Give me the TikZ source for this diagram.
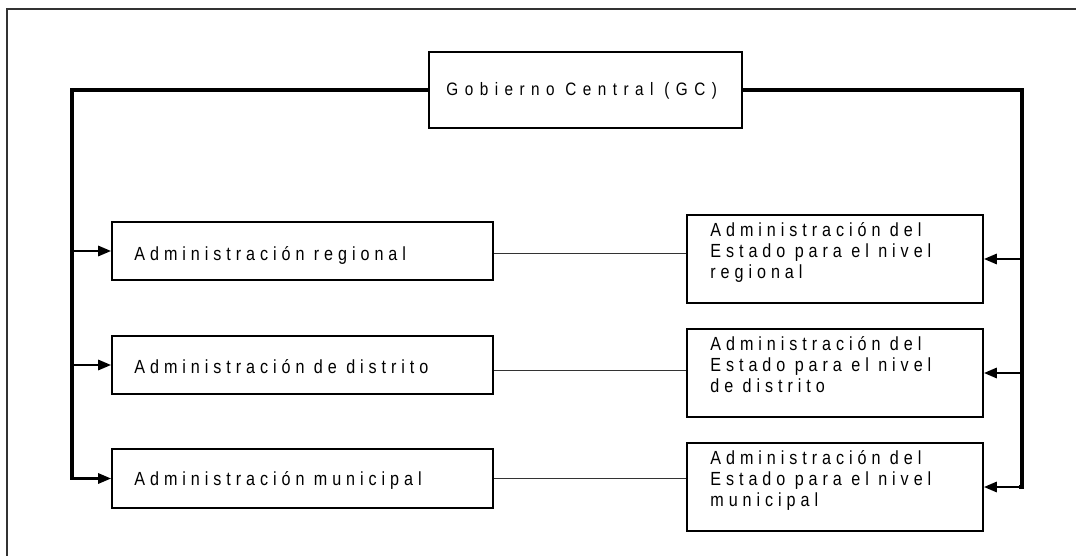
\documentclass[tikz,border=0pt]{standalone}
\usepackage{fontspec}
\usetikzlibrary{arrows.meta,calc}
\newfontfamily\boxfont[FakeStretch=0.85,LetterSpace=26]{Liberation Sans}
\newfontfamily\gcfont[FakeStretch=0.85,LetterSpace=36]{Liberation Sans}
\begin{document}
\begin{tikzpicture}[x=1pt,y=-1pt,
  box/.style={draw=black,line width=1.6pt,minimum height=58pt,inner sep=0pt},
  lbox/.style={box,minimum width=381pt},
  rbox/.style={box,minimum width=296pt,minimum height=88pt},
  gcbox/.style={box,minimum width=313pt,minimum height=76pt},
  ltext/.style={anchor=base west,inner sep=0pt,font=\boxfont\fontsize{19}{21}\selectfont},
  rtext/.style={anchor=north west,inner sep=0pt,align=left,font=\boxfont\fontsize{19}{21}\selectfont},
  thick line/.style={line width=3.2pt},
  arr/.style={line width=2.8pt,-{Triangle[length=13pt,width=10pt]}},
  link/.style={line width=1pt,draw=black!80}]
\useasboundingbox (0,0) rectangle (1076,556);
\fill[white] (0,0) rectangle (1076,556);
% frame
\draw[line width=2pt,draw=black!80] (7,556) -- (7,9) -- (1076,9);
% nodes
\node[gcbox] (gc) at (585.5,90) {};
\node[anchor=base west,inner sep=0pt,font=\gcfont\fontsize{18}{18}\selectfont] (gct) at ([shift={(18,6)}]gc.west) {Gobierno Central (GC)};
\node[lbox] (l1) at (302.5,251) {};
\node[lbox] (l2) at (302.5,365) {};
\node[lbox,minimum height=59pt] (l3) at (302.5,478.5) {};
\node[ltext] (l1t) at ([shift={(23,9)}]l1.west) {Administración regional};
\node[ltext] (l2t) at ([shift={(23,8)}]l2.west) {Administración de distrito};
\node[ltext] (l3t) at ([shift={(23,7)}]l3.west) {Administración municipal};
\node[rbox] (r1) at (835,259) {};
\node[rbox] (r2) at (835,373) {};
\node[rbox] (r3) at (835,487) {};
\node[rtext] (r1t) at ([shift={(24,7)}]r1.north west) {\rule{0pt}{15pt}Administración del\\Estado para el nivel\\regional};
\node[rtext] (r2t) at ([shift={(24,7)}]r2.north west) {\rule{0pt}{15pt}Administración del\\Estado para el nivel\\de distrito};
\node[rtext] (r3t) at ([shift={(24,7)}]r3.north west) {\rule{0pt}{15pt}Administración del\\Estado para el nivel\\municipal};
% corner coordinates
\coordinate (lc) at (72,90);
\coordinate (rc) at (1022,90);
% trunk lines
\draw[thick line,line cap=rect] (gc.west) -- (lc) -- (lc |- l3.west) -- (l3.west -| 73,0);
\draw[thick line,line cap=rect] (gc.east) -- (rc) -- (rc |- r3.east) -- (r3.east -| 1021,0);
% arrows
\draw[arr] (lc |- l1.west) -- (l1.west);
\draw[arr] (lc |- l2.west) -- (l2.west);
\draw[arr] (lc |- l3.west) -- (l3.west);
\draw[arr] (rc |- r1.east) -- (r1.east);
\draw[arr] (rc |- r2.east) -- (r2.east);
\draw[arr] (rc |- r3.east) -- (r3.east);
% links
\draw[link] ([yshift=-2]l1.east) -- ([yshift=-2]l1.east -| r1.west);
\draw[link] ([yshift=-5]l2.east) -- ([yshift=-5]l2.east -| r2.west);
\draw[link] (l3.east) -- (l3.east -| r3.west);
\end{tikzpicture}
\end{document}
